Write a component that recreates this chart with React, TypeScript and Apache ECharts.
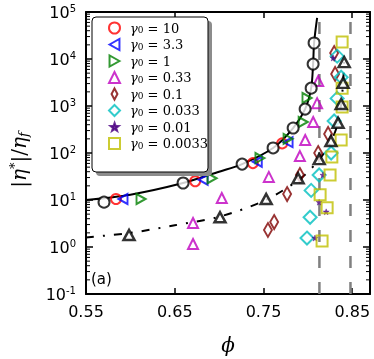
import React, { useEffect, useRef } from 'react';
import * as echarts from 'echarts';

// ---- data ----
const X_MIN = 0.55;
const X_MAX = 0.87;
const Y_MIN = 0.1;
const Y_MAX = 100000;
const GAMMA_LABELS = ['10', '3.3', '1', '0.33', '0.1', '0.033', '0.01', '0.0033'];
const PHI_J = [0.813, 0.848];

const g10 = [[0.5838, 10.5], [0.673, 25], [0.738, 61], [0.771, 160]];
const g3_3 = [[0.5917, 10.5], [0.682, 27], [0.743, 65], [0.7777, 170]];
const g1 = [[0.612, 10.5], [0.692, 29], [0.746, 78], [0.7777, 200], [0.7947, 457], [0.799, 1480]];
const g0_33 = [[0.6706, 1.16], [0.6706, 3.24], [0.703, 11], [0.756, 31], [0.791, 86], [0.797, 189], [0.806, 457], [0.8104, 1150], [0.8116, 3400]];
const g0_1 = [[0.755, 2.3], [0.762, 3.4], [0.7766, 13.4], [0.791, 34], [0.8116, 100], [0.8228, 254], [0.8307, 4800], [0.8296, 13400]];
const g0_033 = [[0.799, 1.55], [0.8025, 4.3], [0.8037, 16], [0.8127, 34], [0.8262, 100], [0.8296, 480], [0.833, 1450], [0.8375, 4100], [0.833, 11500]];
const g0_01 = [[0.808, 1.55], [0.8206, 5.6], [0.8127, 9], [0.817, 34], [0.8285, 10500]];
const g0_0033 = [[0.816, 1.34], [0.8217, 6.8], [0.8138, 13], [0.825, 34], [0.827, 82], [0.8375, 189], [0.8386, 950], [0.8386, 2400], [0.8386, 23000]];
const circlesData = [[0.5703, 9], [0.6594, 23], [0.7259, 58], [0.7608, 128], [0.7834, 340], [0.7969, 860], [0.8037, 2400], [0.8059, 7800], [0.807, 21900]];
const trianglesData = [[0.5985, 1.8], [0.701, 4.3], [0.753, 10.5], [0.789, 29], [0.8127, 74], [0.826, 180], [0.834, 440], [0.8375, 1100], [0.8397, 3100], [0.8409, 8600]];
const fitSolid = [[0.55, 10], [0.6, 13], [0.6594, 23], [0.7, 40], [0.7259, 58], [0.7608, 128], [0.7834, 340], [0.7969, 860], [0.8037, 2400], [0.8059, 7800], [0.807, 21900], [0.8104, 75000]];
const fitDashDot = [[0.55, 1.6], [0.6, 2.0], [0.65, 2.9], [0.7, 4.4], [0.75, 9.5], [0.79, 27], [0.8127, 72], [0.826, 175], [0.834, 440], [0.8375, 1100], [0.8397, 3100], [0.8409, 8600]];
const MINOR_FACTORS = [2, 3, 4, 5, 6, 7, 8, 9];
const DECADES = [0.1, 1, 10, 100, 1000, 10000];

const LEFT_TRI = 'path://M0,5L9,0L9,10Z';
const RIGHT_TRI = 'path://M9,5L0,0L0,10Z';
const STAR = 'path://M5,0L6.2,3.4L9.8,3.5L7,5.8L8,9.3L5,7.2L2,9.3L3,5.8L0.2,3.5L3.8,3.4Z';
const STAR_LEGEND = 'path://M-1.5,-1.5M11.3,11M5,0L6.2,3.4L9.8,3.5L7,5.8L8,9.3L5,7.2L2,9.3L3,5.8L0.2,3.5L3.8,3.4Z';
const NARROW_DIAMOND = 'path://M4,0L8,7.5L4,15L0,7.5Z';

const SERIF = 'DejaVu Serif';
const SANS = 'DejaVu Sans';

function hollow(color: string, width = 2) {
  return { color: 'rgba(255,255,255,0)', borderColor: color, borderWidth: width };
}

export default function App() {
  const ref = useRef<HTMLDivElement>(null);
  useEffect(() => {
    const chart = echarts.init(ref.current!, null, { renderer: 'svg' });
    const names = GAMMA_LABELS.map((g) => 'γ0 = ' + g);
    const minorTicks: number[][] = [];
    DECADES.forEach((d) => MINOR_FACTORS.forEach((f) => minorTicks.push([0.6, f * d])));

    const scatter = (name: string, data: number[][], symbol: string, size: any, itemStyle: any) => ({
      name, type: 'scatter', data, symbol, symbolSize: size, itemStyle, z: 3,
    });

    const option: any = {
      animation: false,
      grid: { left: 86, right: 4, top: 12, bottom: 65 },
      xAxis: [
        {
          type: 'value', min: X_MIN, max: X_MAX, interval: 0.1, position: 'bottom',
          axisLine: { lineStyle: { color: '#000', width: 2 } },
          axisTick: { inside: true, length: 6, lineStyle: { color: '#000', width: 1.5 } },
          axisLabel: {
            margin: 9, color: '#000', fontFamily: SANS, fontSize: 16, showMaxLabel: false,
            formatter: (v: number) => v.toFixed(2),
          },
          splitLine: { show: false },
        },
        {
          type: 'value', min: X_MIN, max: X_MAX, interval: 0.1, position: 'top',
          axisLine: { lineStyle: { color: '#000', width: 2 } },
          axisTick: { inside: true, length: 6, lineStyle: { color: '#000', width: 1.5 } },
          axisLabel: { show: false }, splitLine: { show: false },
        },
      ],
      yAxis: [
        {
          type: 'log', logBase: 10, min: Y_MIN, max: Y_MAX, splitNumber: 6, position: 'left',
          axisLine: { lineStyle: { color: '#000', width: 2 } },
          axisTick: { inside: true, length: 7, lineStyle: { color: '#000', width: 1.5 } },
          axisLabel: {
            margin: 10, color: '#000',
            formatter: (v: number) => '{b|10}{s|' + Math.round(Math.log10(v)) + '}',
            rich: {
              b: { fontFamily: SANS, fontSize: 16, lineHeight: 18, color: '#000' },
              s: { fontFamily: SANS, fontSize: 10, lineHeight: 12, verticalAlign: 'top', color: '#000' },
            },
          },
          splitLine: { show: false },
        },
        {
          type: 'log', logBase: 10, min: Y_MIN, max: Y_MAX, splitNumber: 6, position: 'right',
          axisLine: { lineStyle: { color: '#000', width: 2 } },
          axisTick: { inside: true, length: 7, lineStyle: { color: '#000', width: 1.5 } },
          axisLabel: { show: false }, splitLine: { show: false },
        },
      ],
      legend: {
        orient: 'vertical', left: 108, top: 21.5, itemWidth: 11, itemHeight: 11, itemGap: 3.5,
        selectedMode: false, z: 10, padding: 0,
        data: [
          { name: names[0], icon: 'circle' },
          { name: names[1], icon: LEFT_TRI },
          { name: names[2], icon: RIGHT_TRI },
          { name: names[3], icon: 'triangle' },
          { name: names[4], icon: NARROW_DIAMOND },
          { name: names[5], icon: 'diamond' },
          { name: names[6], icon: STAR_LEGEND },
          { name: names[7], icon: 'rect' },
        ],
        formatter: (name: string) => '{g|γ}{s|0}{t| = ' + name.split('= ')[1] + '}',
        textStyle: {
          fontFamily: SERIF, fontSize: 13, color: '#000',
          rich: {
            g: { fontFamily: SERIF, fontStyle: 'italic', fontSize: 13, lineHeight: 13, padding: [0, 0, 0, 5], color: '#000' },
            s: { fontFamily: SERIF, fontSize: 9, lineHeight: 7, verticalAlign: 'bottom', color: '#000' },
            t: { fontFamily: SERIF, fontSize: 13, lineHeight: 13, color: '#000' },
          },
        },
      },
      graphic: [
        { type: 'rect', z: 8, shape: { x: 96, y: 21, width: 116, height: 155, r: 4 }, style: { fill: '#8c8c8c' } },
        { type: 'rect', z: 9, shape: { x: 92, y: 17, width: 116, height: 155, r: 4 }, style: { fill: '#fff', stroke: '#000', lineWidth: 1 } },
        {
          type: 'text', x: 91, y: 271, z: 10,
          style: { text: '(a)', fontFamily: SANS, fontSize: 15, fill: '#000', textVerticalAlign: 'top' },
        },
        {
          type: 'text', x: 228, y: 345, z: 10,
          style: { text: 'ϕ', fontFamily: SERIF, fontStyle: 'italic', fontSize: 20, fill: '#000', align: 'center', verticalAlign: 'middle' },
        },
        {
          type: 'text', x: 19, y: 160, rotation: Math.PI / 2, z: 10,
          style: {
            text: '{bar||}{a|η}{sup|*}{bar||/}{a|η}{sub|f}',
            align: 'center', verticalAlign: 'middle', fill: '#000',
            rich: {
              bar: { fontFamily: SERIF, fontSize: 20, lineHeight: 22, fill: '#000' },
              a: { fontFamily: SERIF, fontStyle: 'italic', fontSize: 20, lineHeight: 22, fill: '#000' },
              sup: { fontFamily: SERIF, fontSize: 13, lineHeight: 14, verticalAlign: 'top', fill: '#000' },
              sub: { fontFamily: SERIF, fontStyle: 'italic', fontSize: 13, lineHeight: 12, verticalAlign: 'bottom', fill: '#000' },
            },
          },
        },
      ],
      series: [
        {
          name: 'minorTicks', type: 'custom', silent: true, z: 5,
          data: minorTicks,
          renderItem: (params: any, api: any) => {
            const cs = params.coordSys;
            const p = api.coord([api.value(0), api.value(1)]);
            const style = { stroke: '#000', lineWidth: 1 };
            return {
              type: 'group',
              children: [
                { type: 'line', shape: { x1: cs.x, y1: p[1], x2: cs.x + 4, y2: p[1] }, style },
                { type: 'line', shape: { x1: cs.x + cs.width - 4, y1: p[1], x2: cs.x + cs.width, y2: p[1] }, style },
              ],
            };
          },
        },
        {
          name: 'phiJ1', type: 'line', data: [[PHI_J[0], Y_MIN], [PHI_J[0], Y_MAX]], symbol: 'none', z: 1,
          lineStyle: { color: '#808080', width: 2.5, type: [12, 14] },
        },
        {
          name: 'phiJ2', type: 'line', data: [[PHI_J[1], Y_MIN], [PHI_J[1], Y_MAX]], symbol: 'none', z: 1,
          lineStyle: { color: '#808080', width: 2.5, type: [12, 14] },
        },
        {
          name: 'fitSolid', type: 'line', data: fitSolid, symbol: 'none', z: 2, smooth: 0.3,
          lineStyle: { color: '#000', width: 2 },
        },
        {
          name: 'fitDashDot', type: 'line', data: fitDashDot, symbol: 'none', z: 2, smooth: 0.3,
          lineStyle: { color: '#000', width: 2, type: [8, 9, 2, 9] },
        },
        scatter(names[0], g10, 'circle', 10, hollow('#ff0000')),
        scatter(names[1], g3_3, LEFT_TRI, [9, 10], hollow('#0000ff')),
        scatter(names[2], g1, RIGHT_TRI, [9, 10], hollow('#008000')),
        scatter(names[3], g0_33, 'triangle', 10, hollow('#bf00bf')),
        scatter(names[4], g0_1, 'diamond', [8, 14], hollow('#800000')),
        scatter(names[5], g0_033, 'diamond', 13, hollow('#00bfbf')),
        scatter(names[6], g0_01, STAR, 6, { color: '#4b0082', borderColor: '#4b0082', borderWidth: 0.5 }),
        scatter(names[7], g0_0033, 'rect', 11, hollow('#bfbf00')),
        {
          name: 'jamTriangles', type: 'scatter', data: trianglesData, symbol: 'triangle', symbolSize: [11, 10], z: 4,
          itemStyle: { color: '#fff', borderColor: '#000', borderWidth: 2.5 },
        },
        {
          name: 'jamCircles', type: 'scatter', data: circlesData, symbol: 'circle', symbolSize: 11, z: 4,
          itemStyle: { color: '#fff', borderColor: '#000', borderWidth: 2 },
        },
      ],
    };
    chart.setOption(option);
    return () => chart.dispose();
  }, []);
  return <div ref={ref} style={{ position: 'fixed', left: 0, top: 0, width: 374, height: 359 }} />;
}
